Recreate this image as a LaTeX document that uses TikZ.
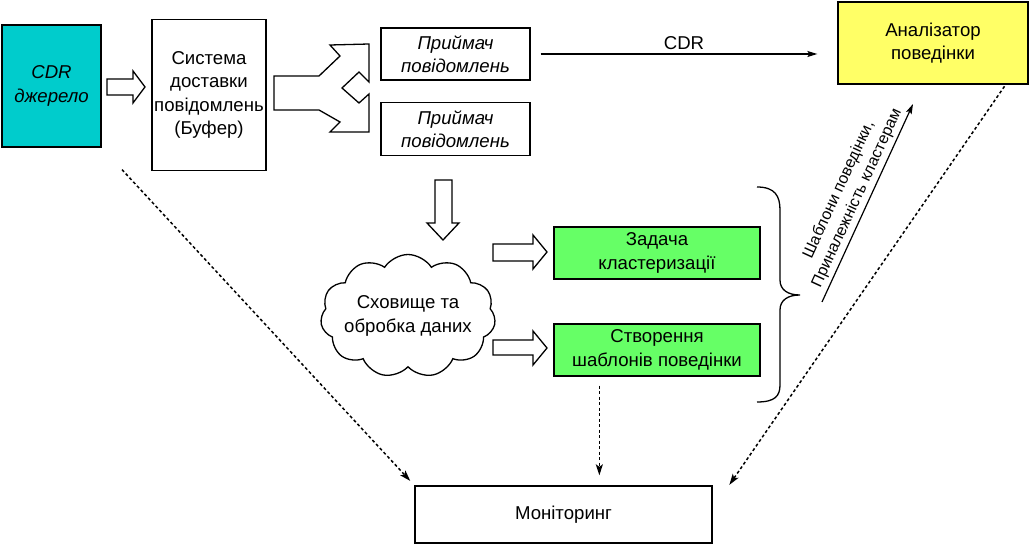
\documentclass[tikz,border=0pt]{standalone}
\usepackage{fontspec}
\setmainfont{Liberation Sans}
\usetikzlibrary{arrows.meta,shapes.symbols}

\definecolor{cdrteal}{RGB}{0,204,204}
\definecolor{anayellow}{RGB}{255,255,102}
\definecolor{taskgreen}{RGB}{102,255,102}

\tikzset{
  box/.style={draw=black, line width=1.3pt, inner sep=1pt, align=center,
    font=\fontsize{18.6}{23.5}\selectfont},
  itbox/.style={box, font=\fontsize{18.6}{23.5}\selectfont\itshape},
  hollow/.style={draw=black, line width=1.3pt, fill=white, line join=miter},
  flow/.style={line width=1.2pt, -{Stealth[length=10pt,width=6pt,inset=2pt]}},
  dotflow/.style={line width=1.5pt, dash pattern=on 3pt off 2.5pt,
    -{Stealth[length=11pt,width=7pt,inset=2.5pt]}}
}

\begin{document}
\begin{tikzpicture}[x=1pt,y=-1pt]
\useasboundingbox (0,0) rectangle (1029,545);

% top row
\node[itbox, fill=cdrteal, minimum width=99pt, minimum height=122pt] (src) at (51.5,86) {CDR\\джерело};
\node[box, inner sep=0pt, minimum width=114pt, minimum height=151pt] (sys) at (209,95) {Система\\доставки\\повідомлень\\(Буфер)};
\node[itbox, minimum width=149pt, minimum height=52pt] (rec1) at (455.5,54) {Приймач\\повідомлень};
\node[itbox, minimum width=149pt, minimum height=53pt] (rec2) at (455.5,129) {Приймач\\повідомлень};
\node[box, fill=anayellow, minimum width=190pt, minimum height=82pt] (ana) at (933,43) {Аналізатор\\поведінки};

% processing
\node[cloud, draw=black, line width=1.3pt, cloud puffs=11, cloud puff arc=115,
      minimum width=175pt, minimum height=123pt] (store) at (408,316) {};
\node[box, draw=none, inner sep=0pt] (storetxt) at (store.center) {Сховище та\\обробка даних};
\node[box, fill=taskgreen, minimum width=206pt, minimum height=52pt] (clus) at (657,253) {Задача\\кластеризації};
\node[box, fill=taskgreen, minimum width=206pt, minimum height=52pt] (tmpl) at (657,350) {Створення\\шаблонів поведінки};
\node[box, minimum width=297pt, minimum height=57pt] (mon) at (563.5,514.5) {Моніторинг};

% block arrows
\draw[hollow] (107,79) -- (133,79) -- (133,71) -- (145,87) -- (133,103) -- (133,95) -- (107,95) -- cycle;
\draw[hollow] (274,76) -- (319,76) -- (340,56) -- (330,45) -- (369,44) -- (369,82) -- (359,72)
  -- (342,88) -- (359,103) -- (369,94) -- (369,132) -- (330,132) -- (340,122) -- (319,110)
  -- (274,110) -- cycle;
\draw[hollow] (435,180) -- (452,180) -- (452,223) -- (459,223) -- (443,240) -- (427,223) -- (435,223) -- cycle;
\draw[hollow] (493,244) -- (533,244) -- (533,235) -- (547,252) -- (533,269) -- (533,261) -- (493,261) -- cycle;
\draw[hollow] (493,340) -- (533,340) -- (533,331) -- (547,348) -- (533,365) -- (533,355) -- (493,355) -- cycle;

% brace
\draw[line width=1.3pt] (757,187) .. controls (775,187) and (780,196) .. (780,210) -- (780,280)
  .. controls (780,290) and (788,295) .. (800,295) .. controls (788,295) and (780,300) .. (780,310)
  -- (780,385) .. controls (780,396) and (775,402) .. (757,402);

% connectors
\draw[flow, shorten <=10pt, shorten >=20pt] (rec1.east) -- (rec1.east -| ana.west)
  node[midway, above=0pt, font=\fontsize{18.6}{23.5}\selectfont] {CDR};

\coordinate (fbfrom) at (822,302);
\coordinate (fbto) at (913,104);
\draw[flow] (fbfrom) -- (fbto)
  node[midway, sloped, above=0pt, align=center, font=\fontsize{16}{20}\selectfont]
  {Шаблони поведінки,\\Приналежність кластерам};

\draw[dotflow, shorten <=30pt, shorten >=6pt] (src.south east) -- (mon.north west);
\draw[dotflow, shorten <=9pt, shorten >=10pt] ([xshift=46pt]tmpl.south west) -- ([xshift=46pt]tmpl.south west |- mon.north);
\draw[dotflow, shorten <=2pt, shorten >=3pt] ([xshift=-23pt]ana.south east) -- ([xshift=15pt,yshift=-2pt]mon.north east);
\end{tikzpicture}
\end{document}
